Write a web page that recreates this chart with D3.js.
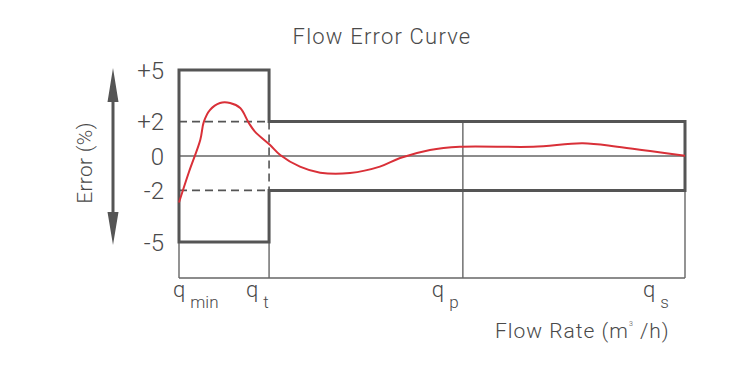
<!DOCTYPE html>
<html lang="en">
<head>
<meta charset="UTF-8">
<title>Flow Error Curve</title>
<script src="https://cdn.jsdelivr.net/npm/d3@7"></script>
<style>
  body { margin: 0; background: #fff; }
  text { font-family: Roboto, "Liberation Sans", sans-serif; font-weight: 300; fill: #4a4a4a; }
</style>
</head>
<body>
<div id="chart"></div>
<script>
// flow positions (relative units, qmin = 0 .. qs = 10)
var flowNames = ["min", "t", "p", "s"];
var flowTicks = [0, 1.78, 5.61, 10];
// permitted error bands
var errTicks = [5, 2, 0, -2, -5];
var errLabels = ["+5", "+2", "0", "-2", "-5"];
var lowBand = 5;   // qmin..qt
var highBand = 2;  // qt..qs
// measured error curve
var curveFlow = [0, 0.2, 0.42, 0.49, 0.61, 0.81, 1.01, 1.21, 1.38, 1.5, 1.8, 2.0, 2.39, 2.79, 3.38, 3.97, 4.37, 4.96, 5.55, 7.0, 7.98, 8.66, 9.31, 10];
var curveErr  = [-2.7, -0.9, 0.93, 1.98, 2.67, 3.08, 3.08, 2.79, 1.92, 1.42, 0.64, 0.06, -0.62, -0.97, -0.99, -0.62, -0.12, 0.35, 0.54, 0.54, 0.74, 0.54, 0.29, 0.02];

var W = 750, H = 366, baseY = 278;
var svg = d3.select("#chart").append("svg").attr("width", W).attr("height", H);

var x = d3.scaleLinear().domain([0, 10]).range([179, 685]);
var y = d3.scaleLinear().domain([-5, 5]).range([242, 70]);

var qmin = flowTicks[0], qt = flowTicks[1], qp = flowTicks[2], qs = flowTicks[3];
var line = d3.line().x(function(d){return x(d[0]);}).y(function(d){return y(d[1]);});

// thin grid lines
var thin = svg.append("g").attr("stroke", "#666").attr("stroke-width", 1.4).attr("fill", "none");
thin.append("line").attr("x1", x(qmin)).attr("x2", x(qs)).attr("y1", y(0)).attr("y2", y(0));
thin.append("line").attr("x1", x(qmin)).attr("x2", x(qs)).attr("y1", baseY).attr("y2", baseY);
[[qmin, -lowBand], [qt, -lowBand], [qp, highBand], [qs, -highBand]].forEach(function(v){
  thin.append("line").attr("x1", x(v[0])).attr("x2", x(v[0])).attr("y1", y(v[1])).attr("y2", baseY);
});

// dashed limits inside the low band
var dash = svg.append("g").attr("stroke", "#555").attr("stroke-width", 1.6).attr("stroke-dasharray", "8,5").attr("fill", "none");
dash.append("line").attr("x1", x(qmin)).attr("x2", x(qt)).attr("y1", y(highBand)).attr("y2", y(highBand));
dash.append("line").attr("x1", x(qmin)).attr("x2", x(qt)).attr("y1", y(-highBand)).attr("y2", y(-highBand));
dash.append("line").attr("x1", x(qt)).attr("x2", x(qt)).attr("y1", y(highBand)).attr("y2", y(-highBand));

// error envelope
var env = [[qmin, -lowBand], [qmin, lowBand], [qt, lowBand], [qt, highBand], [qs, highBand],
           [qs, -highBand], [qt, -highBand], [qt, -lowBand]];
svg.append("path").attr("d", line(env) + "Z")
  .attr("fill", "none").attr("stroke", "#555").attr("stroke-width", 3);

// curve
svg.append("path")
  .datum(curveFlow.map(function(f, i){ return [f, curveErr[i]]; }))
  .attr("d", line.curve(d3.curveCatmullRom.alpha(0.5)))
  .attr("fill", "none").attr("stroke", "#d93038").attr("stroke-width", 2);

// y labels
svg.append("g").selectAll("text").data(errTicks).enter().append("text")
  .attr("x", 164).attr("y", function(d){ return y(d); }).attr("dy", "0.36em")
  .attr("text-anchor", "end").style("font-size", "24px")
  .text(function(d, i){ return errLabels[i]; });

// double arrow
var ax = 113;
svg.append("line").attr("x1", ax).attr("x2", ax).attr("y1", 95).attr("y2", 218)
  .attr("stroke", "#555").attr("stroke-width", 3);
svg.append("path").attr("fill", "#555")
  .attr("d", "M" + ax + ",68L" + (ax + 5.5) + ",102L" + (ax - 5.5) + ",102Z" +
             "M" + ax + ",245L" + (ax + 5.5) + ",212L" + (ax - 5.5) + ",212Z");

svg.append("text").attr("transform", "translate(92,163) rotate(-90)")
  .attr("text-anchor", "middle").style("font-size", "21px").style("letter-spacing", "0.3px").text("Error (%)");

// x labels
var labDx = [-6, -23, -31, -42];
var xl = svg.append("g").selectAll("text").data(flowTicks).enter().append("text")
  .attr("x", function(d, i){ return x(d) + labDx[i]; }).attr("y", 297)
  .style("font-size", "22px");
xl.append("tspan").text("q");
xl.append("tspan").attr("dx", 5).attr("dy", 11).style("font-size", "17px")
  .text(function(d, i){ return flowNames[i]; });

// title + axis title
svg.append("text").attr("x", 382).attr("y", 44).attr("text-anchor", "middle")
  .style("font-size", "22px").style("letter-spacing", "1.2px").text("Flow Error Curve");
var ft = svg.append("text").attr("x", 495).attr("y", 338).style("font-size", "21px").style("letter-spacing", "1px");
ft.append("tspan").text("Flow Rate (m");
ft.append("tspan").attr("dy", -12).style("font-size", "7px").text("3");
ft.append("tspan").attr("dy", 12).text(" /h)");
</script>
</body>
</html>
